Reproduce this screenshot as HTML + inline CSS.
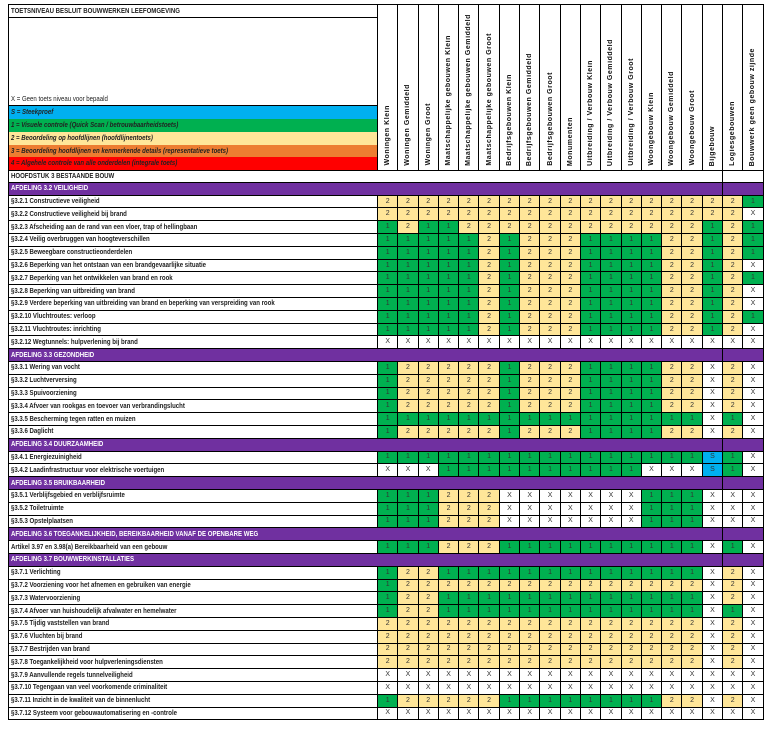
<!DOCTYPE html>
<html><head><meta charset="utf-8"><style>
html,body{margin:0;padding:0;background:#fff;}
body{width:770px;height:735px;position:relative;overflow:hidden;font-family:"Liberation Sans",sans-serif;}
table{position:absolute;left:8px;top:4px;border-collapse:collapse;table-layout:fixed;width:755px;}
td{border:1px solid #000;padding:0;overflow:hidden;white-space:nowrap;font-size:7px;color:#333;text-align:center;line-height:10px;}
td.l{text-align:left;padding-left:2px;font-weight:bold;color:#222;}
td.l span,td.h span{display:inline-block;transform:scaleX(.82);transform-origin:left center;font-size:7.4px;}
td.h{background:#7030A0;color:#fff;text-align:left;padding-left:2px;font-weight:bold;}
td.hh{background:#7030A0;}
.g{background:#00B050;}.y{background:#FFE699;}.w{background:#fff;}.s{background:#00B0F0;}
th{border:1px solid #000;padding:0;vertical-align:bottom;font-weight:normal;}
th div{writing-mode:vertical-rl;transform:rotate(180deg);font-size:7px;letter-spacing:.55px;color:#111;white-space:nowrap;margin:0 auto 4px auto;font-weight:bold;}
.lg td{border-top:none;border-bottom:none;font-style:italic;}
tr.r{height:12.8px;}
</style></head><body>
<table>
<colgroup><col style="width:369px"><col span="19" style="width:20.3px"></colgroup>
<tr style="height:13px"><td class="l"><span>TOETSNIVEAU BESLUIT BOUWWERKEN LEEFOMGEVING</span></td>
<th rowspan="7"><div>Woningen Klein</div></th>
<th rowspan="7"><div>Woningen Gemiddeld</div></th>
<th rowspan="7"><div>Woningen Groot</div></th>
<th rowspan="7"><div>Maatschappelijke gebouwen Klein</div></th>
<th rowspan="7"><div>Maatschappelijke gebouwen Gemiddeld</div></th>
<th rowspan="7"><div>Maatschappelijke gebouwen Groot</div></th>
<th rowspan="7"><div>Bedrijfsgebouwen Klein</div></th>
<th rowspan="7"><div>Bedrijfsgebouwen Gemiddeld</div></th>
<th rowspan="7"><div>Bedrijfsgebouwen Groot</div></th>
<th rowspan="7"><div>Monumenten</div></th>
<th rowspan="7"><div>Uitbreiding / Verbouw Klein</div></th>
<th rowspan="7"><div>Uitbreiding / Verbouw Gemiddeld</div></th>
<th rowspan="7"><div>Uitbreiding / Verbouw Groot</div></th>
<th rowspan="7"><div>Woongebouw Klein</div></th>
<th rowspan="7"><div>Woongebouw Gemiddeld</div></th>
<th rowspan="7"><div>Woongebouw Groot</div></th>
<th rowspan="7"><div>Bijgebouw</div></th>
<th rowspan="7"><div>Logiesgebouwen</div></th>
<th rowspan="7"><div>Bouwwerk geen gebouw zijnde</div></th></tr>
<tr style="height:88.4px"><td class="l" style="vertical-align:bottom;font-weight:normal"><span>X = Geen toets niveau voor bepaald</span></td></tr>
<tr class="lg" style="height:12.9px"><td class="l" style="background:#00B0F0"><span>S = Steekproef</span></td></tr>
<tr class="lg" style="height:12.9px"><td class="l" style="background:#00B050"><span>1 = Visuele controle (Quick Scan / betrouwbaarheidstoets)</span></td></tr>
<tr class="lg" style="height:12.9px"><td class="l" style="background:#FFE699"><span>2 = Beoordeling op hoofdlijnen (hoofdlijnentoets)</span></td></tr>
<tr class="lg" style="height:12.9px"><td class="l" style="background:#ED7D31"><span>3 = Beoordeling hoofdlijnen en kenmerkende details (representatieve toets)</span></td></tr>
<tr class="lg" style="height:12.9px"><td class="l" style="background:#FF0000"><span>4 = Algehele controle van alle onderdelen (integrale toets)</span></td></tr>
<tr style="height:11.5px"><td class="l" colspan="18"><span>HOOFDSTUK 3 BESTAANDE BOUW</span></td><td colspan="2"></td></tr>

<tr class="r"><td class="h" colspan="18"><span>AFDELING 3.2 VEILIGHEID</span></td><td class="hh" colspan="2"></td></tr>
<tr class="r"><td class="l"><span>§3.2.1 Constructieve veiligheid</span></td><td class=y>2</td><td class=y>2</td><td class=y>2</td><td class=y>2</td><td class=y>2</td><td class=y>2</td><td class=y>2</td><td class=y>2</td><td class=y>2</td><td class=y>2</td><td class=y>2</td><td class=y>2</td><td class=y>2</td><td class=y>2</td><td class=y>2</td><td class=y>2</td><td class=y>2</td><td class=y>2</td><td class=g>1</td></tr>
<tr class="r"><td class="l"><span>§3.2.2 Constructieve veiligheid bij brand</span></td><td class=y>2</td><td class=y>2</td><td class=y>2</td><td class=y>2</td><td class=y>2</td><td class=y>2</td><td class=y>2</td><td class=y>2</td><td class=y>2</td><td class=y>2</td><td class=y>2</td><td class=y>2</td><td class=y>2</td><td class=y>2</td><td class=y>2</td><td class=y>2</td><td class=y>2</td><td class=y>2</td><td class=w>X</td></tr>
<tr class="r"><td class="l"><span>§3.2.3 Afscheiding aan de rand van een vloer, trap of hellingbaan</span></td><td class=g>1</td><td class=y>2</td><td class=g>1</td><td class=g>1</td><td class=y>2</td><td class=y>2</td><td class=y>2</td><td class=y>2</td><td class=y>2</td><td class=y>2</td><td class=y>2</td><td class=y>2</td><td class=y>2</td><td class=y>2</td><td class=y>2</td><td class=y>2</td><td class=g>1</td><td class=y>2</td><td class=g>1</td></tr>
<tr class="r"><td class="l"><span>§3.2.4 Veilig overbruggen van hoogteverschillen</span></td><td class=g>1</td><td class=g>1</td><td class=g>1</td><td class=g>1</td><td class=g>1</td><td class=y>2</td><td class=g>1</td><td class=y>2</td><td class=y>2</td><td class=y>2</td><td class=g>1</td><td class=g>1</td><td class=g>1</td><td class=g>1</td><td class=y>2</td><td class=y>2</td><td class=g>1</td><td class=y>2</td><td class=g>1</td></tr>
<tr class="r"><td class="l"><span>§3.2.5 Beweegbare constructieonderdelen</span></td><td class=g>1</td><td class=g>1</td><td class=g>1</td><td class=g>1</td><td class=g>1</td><td class=y>2</td><td class=g>1</td><td class=y>2</td><td class=y>2</td><td class=y>2</td><td class=g>1</td><td class=g>1</td><td class=g>1</td><td class=g>1</td><td class=y>2</td><td class=y>2</td><td class=g>1</td><td class=y>2</td><td class=g>1</td></tr>
<tr class="r"><td class="l"><span>§3.2.6 Beperking van het ontstaan van een brandgevaarlijke situatie</span></td><td class=g>1</td><td class=g>1</td><td class=g>1</td><td class=g>1</td><td class=g>1</td><td class=y>2</td><td class=g>1</td><td class=y>2</td><td class=y>2</td><td class=y>2</td><td class=g>1</td><td class=g>1</td><td class=g>1</td><td class=g>1</td><td class=y>2</td><td class=y>2</td><td class=g>1</td><td class=y>2</td><td class=w>X</td></tr>
<tr class="r"><td class="l"><span>§3.2.7 Beperking van het ontwikkelen van brand en rook</span></td><td class=g>1</td><td class=g>1</td><td class=g>1</td><td class=g>1</td><td class=g>1</td><td class=y>2</td><td class=g>1</td><td class=y>2</td><td class=y>2</td><td class=y>2</td><td class=g>1</td><td class=g>1</td><td class=g>1</td><td class=g>1</td><td class=y>2</td><td class=y>2</td><td class=g>1</td><td class=y>2</td><td class=g>1</td></tr>
<tr class="r"><td class="l"><span>§3.2.8 Beperking van uitbreiding van brand</span></td><td class=g>1</td><td class=g>1</td><td class=g>1</td><td class=g>1</td><td class=g>1</td><td class=y>2</td><td class=g>1</td><td class=y>2</td><td class=y>2</td><td class=y>2</td><td class=g>1</td><td class=g>1</td><td class=g>1</td><td class=g>1</td><td class=y>2</td><td class=y>2</td><td class=g>1</td><td class=y>2</td><td class=w>X</td></tr>
<tr class="r"><td class="l"><span>§3.2.9 Verdere beperking van uitbreiding van brand en beperking van verspreiding van rook</span></td><td class=g>1</td><td class=g>1</td><td class=g>1</td><td class=g>1</td><td class=g>1</td><td class=y>2</td><td class=g>1</td><td class=y>2</td><td class=y>2</td><td class=y>2</td><td class=g>1</td><td class=g>1</td><td class=g>1</td><td class=g>1</td><td class=y>2</td><td class=y>2</td><td class=g>1</td><td class=y>2</td><td class=w>X</td></tr>
<tr class="r"><td class="l"><span>§3.2.10 Vluchtroutes: verloop</span></td><td class=g>1</td><td class=g>1</td><td class=g>1</td><td class=g>1</td><td class=g>1</td><td class=y>2</td><td class=g>1</td><td class=y>2</td><td class=y>2</td><td class=y>2</td><td class=g>1</td><td class=g>1</td><td class=g>1</td><td class=g>1</td><td class=y>2</td><td class=y>2</td><td class=g>1</td><td class=y>2</td><td class=g>1</td></tr>
<tr class="r"><td class="l"><span>§3.2.11 Vluchtroutes: inrichting</span></td><td class=g>1</td><td class=g>1</td><td class=g>1</td><td class=g>1</td><td class=g>1</td><td class=y>2</td><td class=g>1</td><td class=y>2</td><td class=y>2</td><td class=y>2</td><td class=g>1</td><td class=g>1</td><td class=g>1</td><td class=g>1</td><td class=y>2</td><td class=y>2</td><td class=g>1</td><td class=y>2</td><td class=w>X</td></tr>
<tr class="r"><td class="l"><span>§3.2.12 Wegtunnels: hulpverlening bij brand</span></td><td>X</td><td>X</td><td>X</td><td>X</td><td>X</td><td>X</td><td>X</td><td>X</td><td>X</td><td>X</td><td>X</td><td>X</td><td>X</td><td>X</td><td>X</td><td>X</td><td>X</td><td>X</td><td>X</td></tr>

<tr class="r"><td class="h" colspan="18"><span>AFDELING 3.3 GEZONDHEID</span></td><td class="hh" colspan="2"></td></tr>
<tr class="r"><td class="l"><span>§3.3.1 Wering van vocht</span></td><td class=g>1</td><td class=y>2</td><td class=y>2</td><td class=y>2</td><td class=y>2</td><td class=y>2</td><td class=g>1</td><td class=y>2</td><td class=y>2</td><td class=y>2</td><td class=g>1</td><td class=g>1</td><td class=g>1</td><td class=g>1</td><td class=y>2</td><td class=y>2</td><td>X</td><td class=y>2</td><td>X</td></tr>
<tr class="r"><td class="l"><span>§3.3.2 Luchtverversing</span></td><td class=g>1</td><td class=y>2</td><td class=y>2</td><td class=y>2</td><td class=y>2</td><td class=y>2</td><td class=g>1</td><td class=y>2</td><td class=y>2</td><td class=y>2</td><td class=g>1</td><td class=g>1</td><td class=g>1</td><td class=g>1</td><td class=y>2</td><td class=y>2</td><td>X</td><td class=y>2</td><td>X</td></tr>
<tr class="r"><td class="l"><span>§3.3.3 Spuivoorziening</span></td><td class=g>1</td><td class=y>2</td><td class=y>2</td><td class=y>2</td><td class=y>2</td><td class=y>2</td><td class=g>1</td><td class=y>2</td><td class=y>2</td><td class=y>2</td><td class=g>1</td><td class=g>1</td><td class=g>1</td><td class=g>1</td><td class=y>2</td><td class=y>2</td><td>X</td><td class=y>2</td><td>X</td></tr>
<tr class="r"><td class="l"><span>§3.3.4 Afvoer van rookgas en toevoer van verbrandingslucht</span></td><td class=g>1</td><td class=y>2</td><td class=y>2</td><td class=y>2</td><td class=y>2</td><td class=y>2</td><td class=g>1</td><td class=y>2</td><td class=y>2</td><td class=y>2</td><td class=g>1</td><td class=g>1</td><td class=g>1</td><td class=g>1</td><td class=y>2</td><td class=y>2</td><td>X</td><td class=y>2</td><td>X</td></tr>
<tr class="r"><td class="l"><span>§3.3.5 Bescherming tegen ratten en muizen</span></td><td class=g>1</td><td class=g>1</td><td class=g>1</td><td class=g>1</td><td class=g>1</td><td class=g>1</td><td class=g>1</td><td class=g>1</td><td class=g>1</td><td class=g>1</td><td class=g>1</td><td class=g>1</td><td class=g>1</td><td class=g>1</td><td class=g>1</td><td class=g>1</td><td>X</td><td class=g>1</td><td>X</td></tr>
<tr class="r"><td class="l"><span>§3.3.6 Daglicht</span></td><td class=g>1</td><td class=y>2</td><td class=y>2</td><td class=y>2</td><td class=y>2</td><td class=y>2</td><td class=g>1</td><td class=y>2</td><td class=y>2</td><td class=y>2</td><td class=g>1</td><td class=g>1</td><td class=g>1</td><td class=g>1</td><td class=y>2</td><td class=y>2</td><td>X</td><td class=y>2</td><td>X</td></tr>

<tr class="r"><td class="h" colspan="18"><span>AFDELING 3.4 DUURZAAMHEID</span></td><td class="hh" colspan="2"></td></tr>
<tr class="r"><td class="l"><span>§3.4.1 Energiezuinigheid</span></td><td class=g>1</td><td class=g>1</td><td class=g>1</td><td class=g>1</td><td class=g>1</td><td class=g>1</td><td class=g>1</td><td class=g>1</td><td class=g>1</td><td class=g>1</td><td class=g>1</td><td class=g>1</td><td class=g>1</td><td class=g>1</td><td class=g>1</td><td class=g>1</td><td class=s>S</td><td class=g>1</td><td>X</td></tr>
<tr class="r"><td class="l"><span>§3.4.2 Laadinfrastructuur voor elektrische voertuigen</span></td><td>X</td><td>X</td><td>X</td><td class=g>1</td><td class=g>1</td><td class=g>1</td><td class=g>1</td><td class=g>1</td><td class=g>1</td><td class=g>1</td><td class=g>1</td><td class=g>1</td><td class=g>1</td><td>X</td><td>X</td><td>X</td><td class=s>S</td><td class=g>1</td><td>X</td></tr>

<tr class="r"><td class="h" colspan="18"><span>AFDELING 3.5 BRUIKBAARHEID</span></td><td class="hh" colspan="2"></td></tr>
<tr class="r"><td class="l"><span>§3.5.1 Verblijfsgebied en verblijfsruimte</span></td><td class=g>1</td><td class=g>1</td><td class=g>1</td><td class=y>2</td><td class=y>2</td><td class=y>2</td><td>X</td><td>X</td><td>X</td><td>X</td><td>X</td><td>X</td><td>X</td><td class=g>1</td><td class=g>1</td><td class=g>1</td><td>X</td><td>X</td><td>X</td></tr>
<tr class="r"><td class="l"><span>§3.5.2 Toiletruimte</span></td><td class=g>1</td><td class=g>1</td><td class=g>1</td><td class=y>2</td><td class=y>2</td><td class=y>2</td><td>X</td><td>X</td><td>X</td><td>X</td><td>X</td><td>X</td><td>X</td><td class=g>1</td><td class=g>1</td><td class=g>1</td><td>X</td><td>X</td><td>X</td></tr>
<tr class="r"><td class="l"><span>§3.5.3 Opstelplaatsen</span></td><td class=g>1</td><td class=g>1</td><td class=g>1</td><td class=y>2</td><td class=y>2</td><td class=y>2</td><td>X</td><td>X</td><td>X</td><td>X</td><td>X</td><td>X</td><td>X</td><td class=g>1</td><td class=g>1</td><td class=g>1</td><td>X</td><td>X</td><td>X</td></tr>

<tr class="r"><td class="h" colspan="18"><span>AFDELING 3.6 TOEGANKELIJKHEID, BEREIKBAARHEID VANAF DE OPENBARE WEG</span></td><td class="hh" colspan="2"></td></tr>
<tr class="r"><td class="l"><span>Artikel 3.97 en 3.98(a) Bereikbaarheid van een gebouw</span></td><td class=g>1</td><td class=g>1</td><td class=g>1</td><td class=y>2</td><td class=y>2</td><td class=y>2</td><td class=g>1</td><td class=g>1</td><td class=g>1</td><td class=g>1</td><td class=g>1</td><td class=g>1</td><td class=g>1</td><td class=g>1</td><td class=g>1</td><td class=g>1</td><td>X</td><td class=g>1</td><td>X</td></tr>

<tr class="r"><td class="h" colspan="18"><span>AFDELING 3.7 BOUWWERKINSTALLATIES</span></td><td class="hh" colspan="2"></td></tr>
<tr class="r"><td class="l"><span>§3.7.1 Verlichting</span></td><td class=g>1</td><td class=y>2</td><td class=y>2</td><td class=g>1</td><td class=g>1</td><td class=g>1</td><td class=g>1</td><td class=g>1</td><td class=g>1</td><td class=g>1</td><td class=g>1</td><td class=g>1</td><td class=g>1</td><td class=g>1</td><td class=g>1</td><td class=g>1</td><td>X</td><td class=y>2</td><td>X</td></tr>
<tr class="r"><td class="l"><span>§3.7.2 Voorziening voor het afnemen en gebruiken van energie</span></td><td class=g>1</td><td class=y>2</td><td class=y>2</td><td class=y>2</td><td class=y>2</td><td class=y>2</td><td class=y>2</td><td class=y>2</td><td class=y>2</td><td class=y>2</td><td class=y>2</td><td class=y>2</td><td class=y>2</td><td class=y>2</td><td class=y>2</td><td class=y>2</td><td>X</td><td class=y>2</td><td>X</td></tr>
<tr class="r"><td class="l"><span>§3.7.3 Watervoorziening</span></td><td class=g>1</td><td class=y>2</td><td class=y>2</td><td class=g>1</td><td class=g>1</td><td class=g>1</td><td class=g>1</td><td class=g>1</td><td class=g>1</td><td class=g>1</td><td class=g>1</td><td class=g>1</td><td class=g>1</td><td class=g>1</td><td class=g>1</td><td class=g>1</td><td>X</td><td class=y>2</td><td>X</td></tr>
<tr class="r"><td class="l"><span>§3.7.4 Afvoer van huishoudelijk afvalwater en hemelwater</span></td><td class=g>1</td><td class=y>2</td><td class=y>2</td><td class=g>1</td><td class=g>1</td><td class=g>1</td><td class=g>1</td><td class=g>1</td><td class=g>1</td><td class=g>1</td><td class=g>1</td><td class=g>1</td><td class=g>1</td><td class=g>1</td><td class=g>1</td><td class=g>1</td><td>X</td><td class=g>1</td><td>X</td></tr>
<tr class="r"><td class="l"><span>§3.7.5 Tijdig vaststellen van brand</span></td><td class=y>2</td><td class=y>2</td><td class=y>2</td><td class=y>2</td><td class=y>2</td><td class=y>2</td><td class=y>2</td><td class=y>2</td><td class=y>2</td><td class=y>2</td><td class=y>2</td><td class=y>2</td><td class=y>2</td><td class=y>2</td><td class=y>2</td><td class=y>2</td><td>X</td><td class=y>2</td><td>X</td></tr>
<tr class="r"><td class="l"><span>§3.7.6 Vluchten bij brand</span></td><td class=y>2</td><td class=y>2</td><td class=y>2</td><td class=y>2</td><td class=y>2</td><td class=y>2</td><td class=y>2</td><td class=y>2</td><td class=y>2</td><td class=y>2</td><td class=y>2</td><td class=y>2</td><td class=y>2</td><td class=y>2</td><td class=y>2</td><td class=y>2</td><td>X</td><td class=y>2</td><td>X</td></tr>
<tr class="r"><td class="l"><span>§3.7.7 Bestrijden van brand</span></td><td class=y>2</td><td class=y>2</td><td class=y>2</td><td class=y>2</td><td class=y>2</td><td class=y>2</td><td class=y>2</td><td class=y>2</td><td class=y>2</td><td class=y>2</td><td class=y>2</td><td class=y>2</td><td class=y>2</td><td class=y>2</td><td class=y>2</td><td class=y>2</td><td>X</td><td class=y>2</td><td>X</td></tr>
<tr class="r"><td class="l"><span>§3.7.8 Toegankelijkheid voor hulpverleningsdiensten</span></td><td class=y>2</td><td class=y>2</td><td class=y>2</td><td class=y>2</td><td class=y>2</td><td class=y>2</td><td class=y>2</td><td class=y>2</td><td class=y>2</td><td class=y>2</td><td class=y>2</td><td class=y>2</td><td class=y>2</td><td class=y>2</td><td class=y>2</td><td class=y>2</td><td>X</td><td class=y>2</td><td>X</td></tr>
<tr class="r"><td class="l"><span>§3.7.9 Aanvullende regels tunnelveiligheid</span></td><td>X</td><td>X</td><td>X</td><td>X</td><td>X</td><td>X</td><td>X</td><td>X</td><td>X</td><td>X</td><td>X</td><td>X</td><td>X</td><td>X</td><td>X</td><td>X</td><td>X</td><td>X</td><td>X</td></tr>
<tr class="r"><td class="l"><span>§3.7.10 Tegengaan van veel voorkomende criminaliteit</span></td><td>X</td><td>X</td><td>X</td><td>X</td><td>X</td><td>X</td><td>X</td><td>X</td><td>X</td><td>X</td><td>X</td><td>X</td><td>X</td><td>X</td><td>X</td><td>X</td><td>X</td><td>X</td><td>X</td></tr>
<tr class="r"><td class="l"><span>§3.7.11 Inzicht in de kwaliteit van de binnenlucht</span></td><td class=g>1</td><td class=y>2</td><td class=y>2</td><td class=y>2</td><td class=y>2</td><td class=y>2</td><td class=g>1</td><td class=g>1</td><td class=g>1</td><td class=g>1</td><td class=g>1</td><td class=g>1</td><td class=g>1</td><td class=g>1</td><td class=y>2</td><td class=y>2</td><td>X</td><td class=y>2</td><td>X</td></tr>
<tr class="r"><td class="l"><span>§3.7.12 Systeem voor gebouwautomatisering en -controle</span></td><td>X</td><td>X</td><td>X</td><td>X</td><td>X</td><td>X</td><td>X</td><td>X</td><td>X</td><td>X</td><td>X</td><td>X</td><td>X</td><td>X</td><td>X</td><td>X</td><td>X</td><td>X</td><td>X</td></tr>
</table>
</body></html>
